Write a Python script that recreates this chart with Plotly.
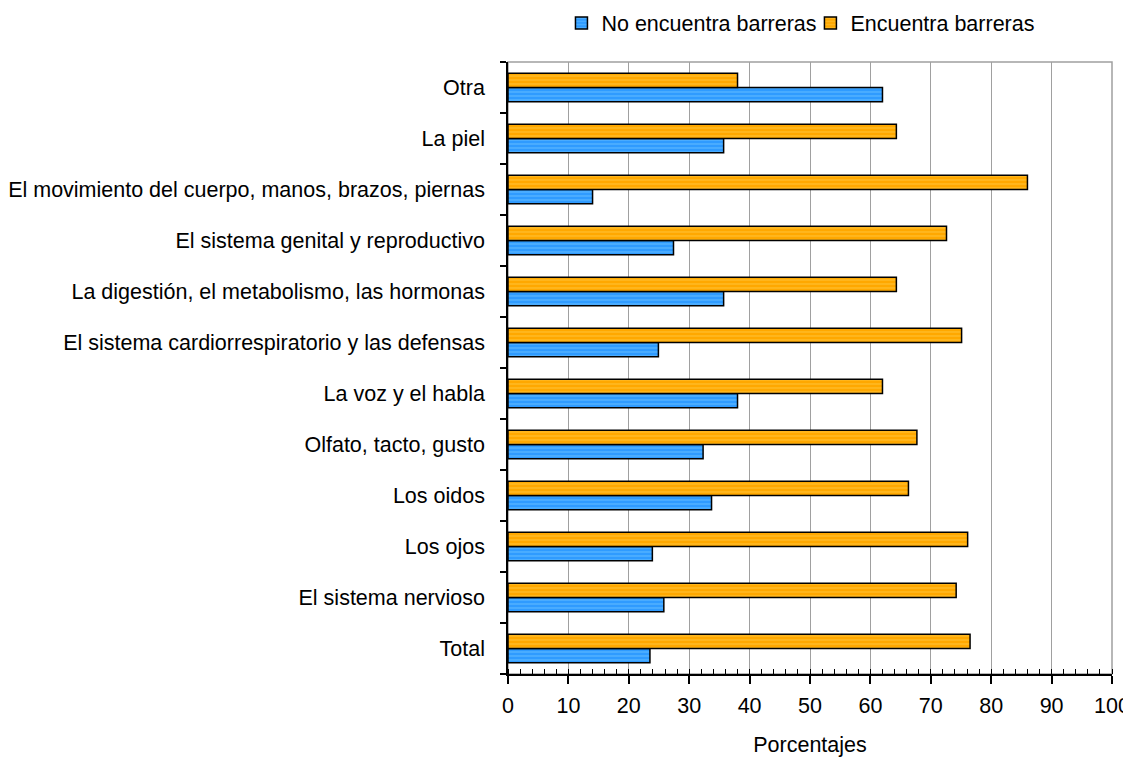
import plotly.graph_objects as go

categories = [
    "Total",
    "El sistema nervioso",
    "Los ojos",
    "Los oidos",
    "Olfato, tacto, gusto",
    "La voz y el habla",
    "El sistema cardiorrespiratorio y las defensas",
    "La digestión, el metabolismo, las hormonas",
    "El sistema genital y reproductivo",
    "El movimiento del cuerpo, manos, brazos, piernas",
    "La piel",
    "Otra",
]
no_encuentra = [23.5, 25.8, 23.9, 33.7, 32.3, 38.0, 24.9, 35.7, 27.4, 14.0, 35.7, 62.0]
encuentra = [76.5, 74.2, 76.1, 66.3, 67.7, 62.0, 75.1, 64.3, 72.6, 86.0, 64.3, 38.0]
x_ticks = list(range(0, 101, 10))

FONT = "Liberation Sans, Arial, sans-serif"
FS = 21.5
W, H = 1123, 749

fig = go.Figure()
fig.add_trace(go.Bar(
    y=categories, x=no_encuentra, orientation="h", name="No encuentra barreras",
    legend="legend",
    marker=dict(color="#2F9BFF", line=dict(color="black", width=1.5),
                pattern=dict(shape="-", fgcolor="#8FD8FF", fgopacity=0.45, size=4,
                             solidity=0.3, fillmode="overlay")),
))
fig.add_trace(go.Bar(
    y=categories, x=encuentra, orientation="h", name="Encuentra barreras",
    legend="legend2",
    marker=dict(color="#FFA800", line=dict(color="black", width=1.5),
                pattern=dict(shape="-", fgcolor="#FFD966", fgopacity=0.45, size=4,
                             solidity=0.3, fillmode="overlay")),
))

fig.add_shape(type="rect", xref="x domain", yref="y domain", x0=0, x1=1, y0=0, y1=1,
              line=dict(color="#A0A0A0", width=1.5), layer="below")

legend_common = dict(orientation="h", xanchor="left", xref="paper",
                     y=1 - 15 / H, yanchor="middle", yref="container",
                     font=dict(size=FS), itemwidth=30, bgcolor="rgba(0,0,0,0)")

fig.update_layout(
    width=W, height=H,
    margin=dict(l=499.5, r=19.3, t=54, b=H - 666, autoexpand=False),
    paper_bgcolor="white", plot_bgcolor="white",
    barmode="group", bargap=0.44, bargroupgap=0,
    font=dict(family=FONT, size=FS, color="black"),
    showlegend=True,
    legend=dict(x=0.0885, **legend_common),
    legend2=dict(x=0.5007, **legend_common),
    xaxis=dict(
        range=[0, 100], tickvals=x_ticks, ticktext=[str(v) for v in x_ticks],
        showgrid=True, gridcolor="#A0A0A0", gridwidth=1,
        showline=True, linecolor="black", linewidth=1.5,
        ticks="outside", ticklen=8, tickcolor="black", tickwidth=1.5,
        ticklabelstandoff=3,
        minor=dict(dtick=2, ticks="inside", ticklen=5, tickcolor="black", tickwidth=1, showgrid=False),
        title=dict(text="Porcentajes", font=dict(size=FS), standoff=33),
        zeroline=False, fixedrange=True, automargin=False,
    ),
    yaxis=dict(
        type="category", categoryorder="array", categoryarray=categories,
        showgrid=False, showline=True, linecolor="black", linewidth=1.5,
        ticks="outside", ticklen=6, tickcolor="black", tickwidth=1.5,
        tickson="boundaries", ticklabelstandoff=17,
        zeroline=False, fixedrange=True, automargin=False,
    ),
)

fig.write_html("out.html")
